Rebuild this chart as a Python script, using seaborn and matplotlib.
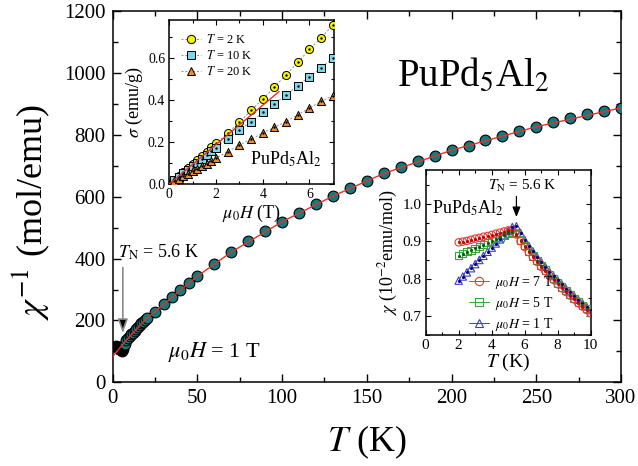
import matplotlib
matplotlib.use("Agg")
import matplotlib.pyplot as plt
import seaborn as sns
from matplotlib.lines import Line2D
from matplotlib.ticker import MultipleLocator

# ---------------- data ----------------
# main panel: inverse susceptibility, mu0H = 1 T
T_low = [2, 2.5, 3, 3.5, 4, 4.5, 5, 5.5, 6]
chi_inv_low = [117, 115, 113, 111, 109, 107, 105, 103, 107]
T_main = [7, 8, 9, 10, 11, 12, 13, 14, 15, 16, 17, 18, 19, 20, 25, 30, 35, 40, 45,
          50, 60, 70, 80, 90, 100, 110, 120, 130, 140, 150, 160, 170, 180, 190,
          200, 210, 220, 230, 240, 250, 260, 270, 280, 290, 300]
chi_inv_main = [125, 137, 144, 150, 156, 161, 167, 173, 179, 185, 191, 196, 201, 207,
                229, 252, 275, 298, 321, 343, 384, 421, 456, 490, 519, 548, 576, 602,
                627, 651, 675, 696, 715, 732, 750, 765, 782, 797, 812, 826, 840, 853,
                866, 877, 888]
fit_T = [0, 5, 10, 15, 20, 30, 40, 50, 70, 100, 130, 160, 200, 250, 300]
fit_chi_inv = [83, 117, 148, 178, 206, 251, 298, 343, 421, 519, 602, 675, 750, 826, 887]

# inset 1: magnetization sigma vs mu0H
H = [0.2, 0.4, 0.6, 0.8, 1.0, 1.2, 1.4, 1.6, 1.8, 2.0, 2.5, 3.0, 3.5, 4.0, 4.5,
     5.0, 5.5, 6.0, 6.5, 7.0]
sig_2K = [0.019, 0.038, 0.057, 0.076, 0.095, 0.115, 0.134, 0.154, 0.174, 0.194,
          0.242, 0.294, 0.350, 0.404, 0.461, 0.520, 0.579, 0.640, 0.695, 0.756]
sig_10K = [0.017, 0.034, 0.051, 0.068, 0.085, 0.102, 0.120, 0.137, 0.155, 0.172,
           0.216, 0.256, 0.297, 0.340, 0.381, 0.425, 0.468, 0.510, 0.553, 0.597]
sig_20K = [0.012, 0.024, 0.036, 0.048, 0.060, 0.072, 0.085, 0.097, 0.110, 0.123,
           0.154, 0.186, 0.213, 0.242, 0.270, 0.297, 0.329, 0.361, 0.393, 0.420]
fit_H = [0, 4.7]
fit_sig = [0, 0.44]
inset1_labels = ["$T$ = 2 K", "$T$ = 10 K", "$T$ = 20 K"]

# inset 2: chi (10^-2 emu/mol) vs T
T_in = [2.0, 2.25, 2.5, 2.75, 3.0, 3.25, 3.5, 3.75, 4.0, 4.25, 4.5, 4.75, 5.0,
        5.25, 5.5, 5.75, 6.0, 6.25, 6.5, 6.75, 7.0, 7.25, 7.5, 7.75, 8.0, 8.25,
        8.5, 8.75, 9.0, 9.25, 9.5, 9.75, 10.0]
chi_7T = [0.897, 0.899, 0.901, 0.904, 0.907, 0.909, 0.912, 0.914, 0.917, 0.920,
          0.923, 0.926, 0.929, 0.930, 0.918, 0.900, 0.885, 0.871, 0.858, 0.845,
          0.832, 0.820, 0.808, 0.797, 0.786, 0.775, 0.765, 0.755, 0.745, 0.735,
          0.726, 0.717, 0.708]
chi_5T = [0.862, 0.867, 0.872, 0.876, 0.881, 0.886, 0.891, 0.896, 0.901, 0.906,
          0.911, 0.916, 0.921, 0.924, 0.920, 0.903, 0.888, 0.874, 0.861, 0.848,
          0.835, 0.823, 0.811, 0.800, 0.789, 0.778, 0.768, 0.758, 0.748, 0.738,
          0.729, 0.720, 0.711]
chi_1T = [0.795, 0.806, 0.817, 0.828, 0.839, 0.850, 0.861, 0.872, 0.883, 0.894,
          0.905, 0.916, 0.927, 0.938, 0.940, 0.922, 0.904, 0.888, 0.873, 0.858,
          0.845, 0.832, 0.819, 0.807, 0.796, 0.785, 0.774, 0.764, 0.754, 0.744,
          0.735, 0.726, 0.716]
inset2_labels = [r"$\mu_{\mathit{0}}H$ = 7 T", r"$\mu_{\mathit{0}}H$ = 5 T", r"$\mu_{\mathit{0}}H$ = 1 T"]

# ---------------- style ----------------
sns.set_theme(style="ticks", rc={
    "axes.edgecolor": "black", "xtick.color": "black", "ytick.color": "black",
    "text.color": "black", "axes.labelcolor": "black", "axes.linewidth": 1.1,
})
plt.rcParams["font.family"] = ["Liberation Serif", "DejaVu Serif"]
plt.rcParams["mathtext.fontset"] = "stix"

TEAL = "#137b7b"
RED = "#e8302c"

fig = plt.figure(figsize=(6.38, 4.66), dpi=100)

# ---------------- main axes ----------------
ax = fig.add_axes([0.1766, 0.1794, 0.7968, 0.7970])
sns.scatterplot(x=T_low, y=chi_inv_low, ax=ax, color="black", s=60,
                edgecolor="black", linewidth=0.8, zorder=3)
sns.scatterplot(x=T_main, y=chi_inv_main, ax=ax, color=TEAL, s=60,
                edgecolor="black", linewidth=0.8, zorder=3)
sns.lineplot(x=fit_T, y=fit_chi_inv, ax=ax, color=RED, lw=1.0, sort=False,
             estimator=None, zorder=4)
ax.set_xlim(0, 300)
ax.set_ylim(0, 1200)
ax.xaxis.set_major_locator(MultipleLocator(50))
ax.xaxis.set_minor_locator(MultipleLocator(25))
ax.yaxis.set_major_locator(MultipleLocator(200))
ax.yaxis.set_minor_locator(MultipleLocator(100))
ax.tick_params(which="both", direction="in", top=True, right=True, labelsize=15, pad=5)
ax.tick_params(which="major", length=6, width=1)
ax.tick_params(which="minor", length=3.5, width=1)
ax.set_xlabel("$T$ (K)", fontsize=26)
ax.set_ylabel(r"$\chi^{-1}$ (mol/emu)", fontsize=26)
ax.xaxis.set_label_coords(0.5, -0.11)
ax.yaxis.set_label_coords(-0.12, 0.46)

ax.annotate("", xy=(6, 150), xytext=(6, 380),
            arrowprops=dict(arrowstyle="-|>,head_length=0.7,head_width=0.25",
                            fc="black", ec="#8a8a8a", lw=1.2))
ax.text(3, 402, r"$T_{\rm N}$ = 5.6 K", fontsize=13, ha="left", va="baseline")
ax.text(60, 98, r"$\mu_{\mathit{0}}H$ = 1 T", fontsize=16, ha="center", va="center")
ax.text(168, 958, "PuPd$_5$Al$_2$", fontsize=28, ha="left", va="baseline")

# ---------------- inset 1 ----------------
ax1 = fig.add_axes([0.2654, 0.6052, 0.2581, 0.3519])
ax1.set_facecolor("white")
ser1 = [(sig_2K, "o", "#f4f400"), (sig_10K, "s", "#7fd6e6"), (sig_20K, "^", "#ee8a2a")]
for sig, mk, col in ser1:
    sns.lineplot(x=H, y=sig, ax=ax1, color="#909090", lw=0.7, ls=(0, (2, 2)),
                 sort=False, estimator=None, zorder=2)
    sns.scatterplot(x=H, y=sig, ax=ax1, marker=mk, color=col, s=34,
                    edgecolor="black", linewidth=0.7, zorder=3)
    sns.scatterplot(x=H, y=sig, ax=ax1, marker="o", color="black", s=3,
                    linewidth=0, zorder=4)
sns.lineplot(x=fit_H, y=fit_sig, ax=ax1, color=RED, lw=1.0, sort=False,
             estimator=None, zorder=5)
ax1.set_xlim(0, 7.05)
ax1.set_ylim(0, 0.78)
ax1.xaxis.set_major_locator(MultipleLocator(2))
ax1.xaxis.set_minor_locator(MultipleLocator(1))
ax1.yaxis.set_major_locator(MultipleLocator(0.2))
ax1.yaxis.set_minor_locator(MultipleLocator(0.1))
ax1.tick_params(which="both", direction="in", top=True, right=True, labelsize=10, pad=3)
ax1.tick_params(which="major", length=3.5, width=0.8)
ax1.tick_params(which="minor", length=2, width=0.8)
ax1.set_xlabel(r"$\mu_{\mathit{0}}H$ (T)", fontsize=13, labelpad=1)
ax1.set_ylabel(r"$\sigma$ (emu/g)", fontsize=13, labelpad=2)
ax1.text(0.49, 0.116, "PuPd$_5$Al$_2$", fontsize=13, transform=ax1.transAxes,
         ha="left", va="baseline")
h1 = [Line2D([], [], color="#909090", lw=0.7, ls=(0, (2, 2)), marker=mk, mfc=col,
             mec="black", mew=0.7, ms=6) for _, mk, col in ser1]
ax1.legend(h1, inset1_labels, loc="upper left", bbox_to_anchor=(0.07, 0.92),
           frameon=False, fontsize=9, handlelength=1.6, handletextpad=0.4,
           labelspacing=0.25, borderpad=0, borderaxespad=0)

# ---------------- inset 2 ----------------
ax2 = fig.add_axes([0.6672, 0.2811, 0.2586, 0.3541])
ax2.set_facecolor("white")
ser2 = [(chi_7T, "o", "#e83a3a", "#d00000"), (chi_5T, "s", "#3aa33a", "#006400"),
        (chi_1T, "^", "#3c3cc8", "#00008b")]
for chi, mk, col, dot in reversed(ser2):
    sns.scatterplot(x=T_in, y=chi, ax=ax2, marker=mk, color=col, facecolor="none",
                    edgecolor=col, s=28, linewidth=0.8, zorder=3)
    sns.scatterplot(x=T_in, y=chi, ax=ax2, marker="o", color=dot, s=5,
                    linewidth=0, zorder=4)
ax2.set_xlim(0, 10)
ax2.set_ylim(0.65, 1.09)
ax2.xaxis.set_major_locator(MultipleLocator(2))
ax2.xaxis.set_minor_locator(MultipleLocator(1))
ax2.yaxis.set_major_locator(MultipleLocator(0.1))
ax2.yaxis.set_minor_locator(MultipleLocator(0.05))
ax2.tick_params(which="both", direction="in", top=True, right=True, labelsize=11, pad=3)
ax2.tick_params(which="major", length=3.5, width=0.8)
ax2.tick_params(which="minor", length=2, width=0.8)
ax2.set_xlabel("$T$ (K)", fontsize=14, labelpad=0)
ax2.set_ylabel(r"$\chi$ (10$^{-2}$emu/mol)", fontsize=13, labelpad=2)
ax2.text(0.04, 0.733, "PuPd$_5$Al$_2$", fontsize=13, transform=ax2.transAxes,
         ha="left", va="baseline")
ax2.text(5.85, 1.048, r"$T_{\rm N}$ = 5.6 K", fontsize=11, ha="center", va="center")
ax2.annotate("", xy=(5.5, 0.957), xytext=(5.5, 1.027),
             arrowprops=dict(arrowstyle="-|>,head_length=0.5,head_width=0.2",
                             fc="black", ec="black", lw=0.9))
h2 = [Line2D([], [], color=col, lw=0.7, marker=mk, mfc="none", mec=col, mew=0.8, ms=6)
      for _, mk, col, _ in ser2]
ax2.legend(h2, inset2_labels, loc="upper left", bbox_to_anchor=(0.26, 0.37),
           frameon=False, fontsize=10, handlelength=1.5, handletextpad=0.4,
           labelspacing=0.3, borderpad=0, borderaxespad=0)

fig.savefig("out.png", dpi=100)
